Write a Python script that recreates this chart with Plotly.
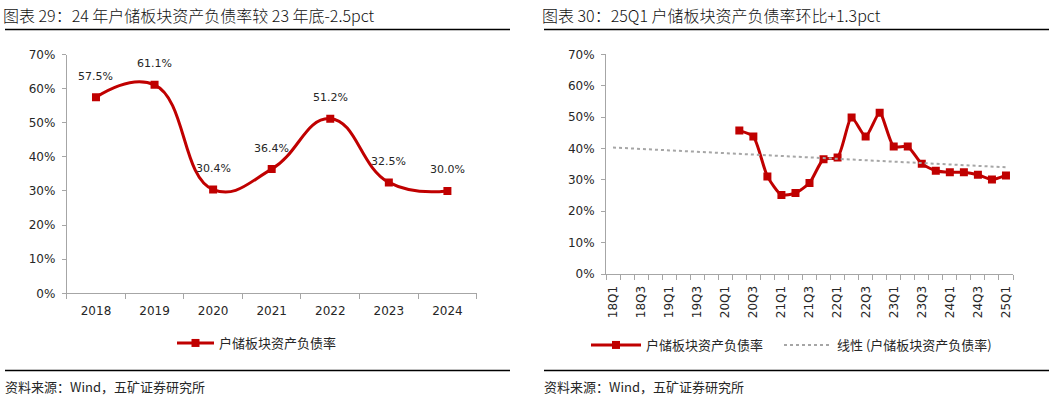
import plotly.graph_objects as go

W, H = 1061, 398

# ---------------- data ----------------
years = ["2018", "2019", "2020", "2021", "2022", "2023", "2024"]
annual_ratio = [57.5, 61.1, 30.4, 36.4, 51.2, 32.5, 30.0]

quarters = ["18Q1", "18Q2", "18Q3", "18Q4", "19Q1", "19Q2", "19Q3", "19Q4",
            "20Q1", "20Q2", "20Q3", "20Q4", "21Q1", "21Q2", "21Q3", "21Q4",
            "22Q1", "22Q2", "22Q3", "22Q4", "23Q1", "23Q2", "23Q3", "23Q4",
            "24Q1", "24Q2", "24Q3", "24Q4", "25Q1"]
quarter_ratio = [None, None, None, None, None, None, None, None, None,
                 45.7, 43.8, 31.1, 25.2, 25.8, 29.0, 36.6,
                 37.1, 49.9, 43.8, 51.4, 40.6, 40.6, 35.1, 32.9,
                 32.4, 32.4, 31.6, 30.1, 31.4]
trend_quarters = ["18Q1", "25Q1"]
trend_values = [40.3, 34.0]

series_name = "户储板块资产负债率"
trend_name = "线性 (户储板块资产负债率)"
title_left = "图表 29：24 年户储板块资产负债率较 23 年底-2.5pct"
title_right = "图表 30：25Q1 户储板块资产负债率环比+1.3pct"
source_text = "资料来源：Wind，五矿证券研究所"

# ---------------- style ----------------
RED = "#C00000"
GRAY = "#A6A6A6"
TXT = "#262626"
NUMFONT = "DejaVu Sans, Noto Sans CJK SC"
CJKFONT = "Noto Sans CJK SC, DejaVu Sans"

def px(x):
    return x / W

def py(y):
    return 1 - y / H

fig = go.Figure()

xi_years = list(range(len(years)))
fig.add_trace(go.Scatter(
    x=xi_years, y=annual_ratio, name=series_name,
    mode="lines+markers",
    line=dict(color=RED, width=3, shape="spline", smoothing=1.3),
    marker=dict(symbol="square", size=8, color=RED),
    xaxis="x", yaxis="y", legend="legend",
))

xi_q = list(range(len(quarters)))
fig.add_trace(go.Scatter(
    x=xi_q, y=quarter_ratio, name=series_name,
    mode="lines+markers",
    line=dict(color=RED, width=3, shape="spline", smoothing=0.6),
    marker=dict(symbol="square", size=8, color=RED),
    xaxis="x2", yaxis="y2", legend="legend2",
))
fig.add_trace(go.Scatter(
    x=[quarters.index(q) for q in trend_quarters], y=trend_values, name=trend_name,
    mode="lines",
    line=dict(color=GRAY, width=2, dash="dot"),
    xaxis="x2", yaxis="y2", legend="legend3",
))

# data labels on left chart
annotations = []
for i, v in enumerate(annual_ratio):
    annotations.append(dict(
        x=i, y=v, xref="x", yref="y", text=f"{v:.1f}%", showarrow=False,
        yshift=21, font=dict(family=NUMFONT, size=11, color=TXT),
    ))

# titles and sources
annotations += [
    dict(x=px(1), y=py(15), xref="paper", yref="paper", xanchor="left", yanchor="middle",
         text=title_left, showarrow=False,
         font=dict(family=CJKFONT, size=16, color="#111", weight=300)),
    dict(x=px(540), y=py(15), xref="paper", yref="paper", xanchor="left", yanchor="middle",
         text=title_right, showarrow=False,
         font=dict(family=CJKFONT, size=16, color="#111", weight=300)),
    dict(x=px(3), y=py(386), xref="paper", yref="paper", xanchor="left", yanchor="middle",
         text=source_text, showarrow=False, font=dict(family=CJKFONT, size=13, color=TXT)),
    dict(x=px(542), y=py(386), xref="paper", yref="paper", xanchor="left", yanchor="middle",
         text=source_text, showarrow=False, font=dict(family=CJKFONT, size=13, color=TXT)),
]

shapes = [
    dict(type="line", xref="paper", yref="paper", x0=px(5), x1=px(510), y0=py(29.5), y1=py(29.5),
         line=dict(color="#000", width=1.5)),
    dict(type="line", xref="paper", yref="paper", x0=px(544), x1=px(1049), y0=py(29.5), y1=py(29.5),
         line=dict(color="#000", width=1.5)),
    dict(type="line", xref="paper", yref="paper", x0=px(5), x1=px(510), y0=py(370.5), y1=py(370.5),
         line=dict(color="#000", width=1.5)),
    dict(type="line", xref="paper", yref="paper", x0=px(544), x1=px(1049), y0=py(370.5), y1=py(370.5),
         line=dict(color="#000", width=1.5)),
]

yaxis_common = dict(
    range=[0, 70], dtick=10, ticksuffix="%", showgrid=False, zeroline=False,
    showline=True, linecolor=GRAY, linewidth=1, ticks="outside", ticklen=4,
    tickcolor=GRAY, tickfont=dict(family=NUMFONT, size=12, color=TXT),
    ticklabelstandoff=4,
)

legend_common = dict(
    orientation="h", xanchor="left", yanchor="middle",
    font=dict(family=CJKFONT, size=13, color=TXT), bgcolor="rgba(0,0,0,0)",
)

fig.update_layout(
    width=W, height=H, autosize=False,
    margin=dict(l=0, r=0, t=0, b=0, pad=0, autoexpand=False),
    paper_bgcolor="white", plot_bgcolor="white",
    showlegend=True,
    xaxis=dict(
        domain=[px(66.7), px(476.7)], anchor="y", range=[-0.5, len(years) - 0.5],
        tickmode="array", tickvals=xi_years, ticktext=years, ticks="",
        showline=True, linecolor=GRAY, linewidth=1, showgrid=False, zeroline=False,
        tickfont=dict(family=NUMFONT, size=12, color=TXT), ticklabelstandoff=6,
        minor=dict(tickmode="array", tickvals=[i - 0.5 for i in range(len(years) + 1)],
                   ticks="outside", ticklen=5, tickcolor=GRAY, showgrid=False),
    ),
    yaxis=dict(domain=[py(293.3), py(54.5)], anchor="x", **yaxis_common),
    xaxis2=dict(
        domain=[px(606), px(1013)], anchor="y2", range=[-0.5, len(quarters) - 0.5],
        tickmode="array", tickvals=xi_q[::2], ticktext=quarters[::2], ticks="",
        tickangle=-90,
        showline=True, linecolor=GRAY, linewidth=1, showgrid=False, zeroline=False,
        tickfont=dict(family=NUMFONT, size=12, color=TXT), ticklabelstandoff=6,
        minor=dict(tickmode="array", tickvals=[i - 0.5 for i in range(len(quarters) + 1)],
                   ticks="outside", ticklen=5, tickcolor=GRAY, showgrid=False),
    ),
    yaxis2=dict(domain=[py(274), py(54.3)], anchor="x2", **yaxis_common),
    legend=dict(x=px(172), y=py(343), itemwidth=37, **legend_common),
    legend2=dict(x=px(586), y=py(345), itemwidth=50, **legend_common),
    legend3=dict(x=px(779), y=py(345), itemwidth=48, **legend_common),
    annotations=annotations,
    shapes=shapes,
)

fig.write_html(
    "out.html",
    config={"displayModeBar": False},
    post_script="document.body.style.margin='0px';document.body.style.overflow='hidden';",
)
